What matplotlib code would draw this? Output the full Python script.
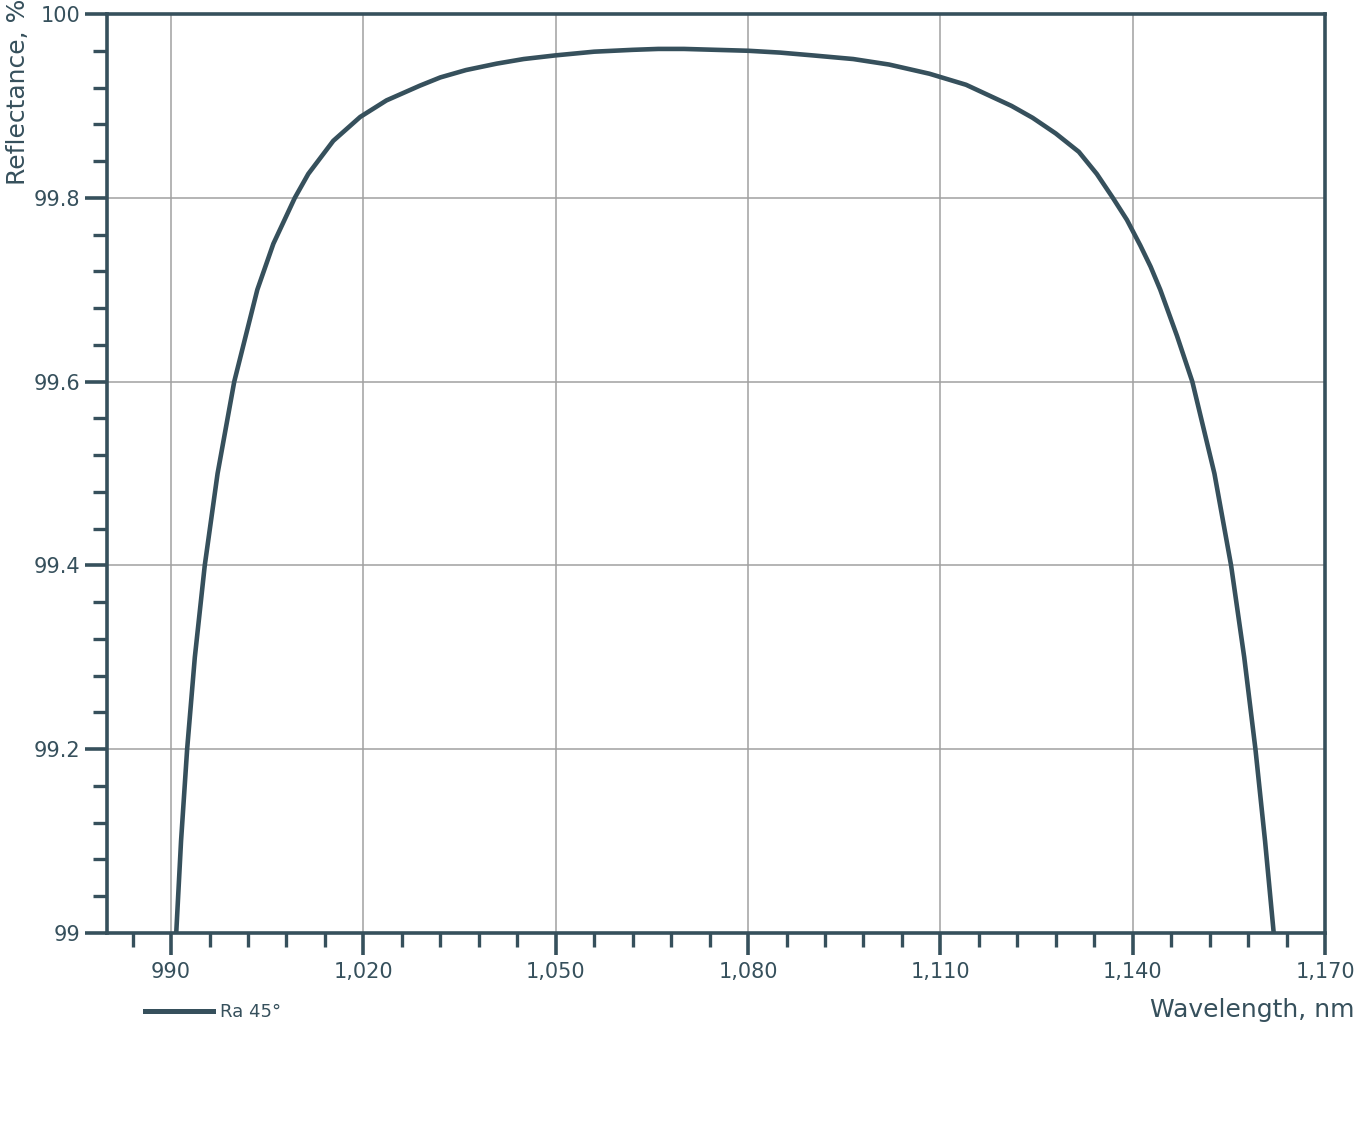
import matplotlib
matplotlib.use("Agg")
import matplotlib.pyplot as plt
from matplotlib.ticker import MultipleLocator, FuncFormatter

# Data
wavelength = [990.8, 991.55, 992.5, 993.7, 995.25, 997.25, 999.85, 1003.45,
              1005.95, 1009.3, 1011.4, 1015.3, 1019.5, 1023.6, 1028.8, 1032.0,
              1036.0, 1040.8, 1045.0, 1050.0, 1056.0, 1062.0, 1066.0, 1070.0,
              1075.0, 1080.0, 1085.0, 1090.0, 1096.4, 1102.0, 1108.3, 1114.0,
              1121.1, 1124.4, 1128.0, 1131.6, 1134.4, 1136.9, 1139.1, 1141.2,
              1142.8, 1144.3, 1146.9, 1149.3, 1152.75, 1155.35, 1157.4, 1159.15,
              1160.65, 1162.0]
reflectance = [99.0, 99.1, 99.2, 99.3, 99.4, 99.5, 99.6, 99.7,
               99.75, 99.8, 99.826, 99.862, 99.888, 99.906, 99.922, 99.931,
               99.939, 99.946, 99.951, 99.955, 99.959, 99.961, 99.962, 99.962,
               99.961, 99.960, 99.958, 99.955, 99.951, 99.945, 99.935, 99.923,
               99.9, 99.887, 99.870, 99.85, 99.826, 99.8, 99.776, 99.748,
               99.725, 99.7, 99.65, 99.6, 99.5, 99.4, 99.3, 99.2,
               99.1, 99.0]
series_name = "Ra 45°"
x_label = "Wavelength, nm"
y_label = "Reflectance, %"

C = "#36505c"
W, H = 1357, 1129
fig = plt.figure(figsize=(W / 100, H / 100), dpi=100)
ax = fig.add_axes([107 / W, 1 - 933 / H, (1325 - 107) / W, (933 - 14) / H])

ax.plot(wavelength, reflectance, color=C, lw=3.3, solid_capstyle="butt",
        solid_joinstyle="round", clip_on=True)

ax.set_xlim(980, 1170)
ax.set_ylim(99, 100)
ax.xaxis.set_major_locator(MultipleLocator(30))
ax.xaxis.set_minor_locator(MultipleLocator(6))
ax.yaxis.set_major_locator(MultipleLocator(0.2))
ax.yaxis.set_minor_locator(MultipleLocator(0.04))
ax.xaxis.set_major_formatter(FuncFormatter(lambda v, p: f"{v:,.0f}"))
ax.yaxis.set_major_formatter(FuncFormatter(lambda v, p: f"{round(v, 2):g}"))

ax.grid(True, which="major", color="#a0a0a0", lw=1.1)
ax.set_axisbelow(True)
for s in ax.spines.values():
    s.set_color(C)
    s.set_linewidth(2.6)

ax.tick_params(axis="both", which="both", direction="out", color=C, labelcolor=C,
               labelsize=15)
ax.tick_params(axis="both", which="major", length=16, width=2.6)
ax.tick_params(axis="both", which="minor", length=10, width=2.4)
ax.tick_params(axis="x", which="major", pad=5)
ax.tick_params(axis="y", which="major", pad=3)

fig.text(1355 / W, 1 - 1010 / H, x_label, ha="right", va="center",
         fontsize=18, color=C)
fig.text(18 / W, 1 - 185 / H, y_label, ha="center", va="bottom",
         rotation=90, fontsize=18, color=C)

# legend
fig.lines.append(plt.Line2D([145 / W, 213 / W], [1 - 1011 / H, 1 - 1011 / H],
                            transform=fig.transFigure, color=C, lw=3.6))
fig.text(220 / W, 1 - 1012 / H, series_name, ha="left", va="center",
         fontsize=13, color=C)

fig.savefig("out.png", dpi=100, facecolor="white")
